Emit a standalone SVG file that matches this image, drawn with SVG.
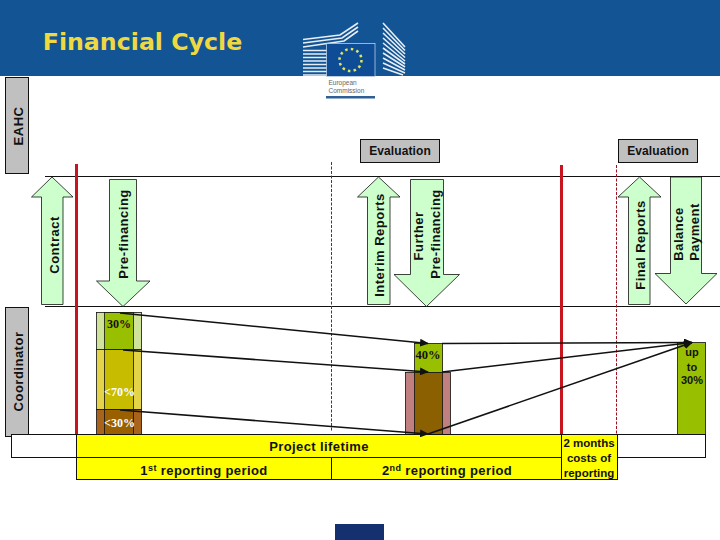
<svg xmlns="http://www.w3.org/2000/svg" width="720" height="540" viewBox="0 0 720 540">
<style>
text{font-family:"Liberation Sans",Arial,sans-serif;font-weight:bold;fill:#111;text-anchor:middle}
.l{font-size:13px;letter-spacing:.5px}
.e{font-size:12px;letter-spacing:.1px}
.s{font-family:"Liberation Serif","Times New Roman",serif;font-size:12px}
.w{fill:#fff}
.gray{fill:#c0c0c0;stroke:#111;stroke-width:1}
.ar{fill:#ccffcc;stroke:#111;stroke-width:.8}
.rule{stroke:#111;stroke-width:1;fill:none}
.red{stroke:#c8141e;stroke-width:3;fill:none}
.dash{stroke:#a01020;stroke-width:1;stroke-dasharray:3 1.5;fill:none}
.c{stroke:#111;stroke-width:1.6;fill:none;marker-end:url(#a)}
.b{stroke:#111;stroke-width:.8}
.st{stroke:#e8eef5;stroke-width:1.6;fill:none}
</style>
<defs><marker id="a" markerUnits="userSpaceOnUse" markerWidth="9" markerHeight="8" refX="8" refY="4" orient="auto"><path d="M0 0L9 4L0 8Z" fill="#111"/></marker></defs>
<rect width="720" height="540" fill="#fff"/>
<g id="header">
<rect width="720" height="76" fill="#125494"/>
<text x="142.500" y="50" style="font-family:'DejaVu Sans',sans-serif;font-size:23.700px;fill:#f0d840">Financial Cycle</text>
</g>
<g id="logo">
<path class="st" d="M303 39.500L340 35L358 23M303 43L342 38L358 27M303 47L344 41L358 31M303 50.500H327M303 54H327M303 57.500H327M303 61H327M303 64.500H327M303 68H327M303 71.500H327M303 75H327M383 23L405 47M383 28L405 50.500M383 33L405 54M383 38L405 57.500M383 43L405 61M383 48L405 64M383 53L405 67M383 58L405 70M383 63L405 73M383 68L403 75"/>
<rect x="326.500" y="43.500" width="48.500" height="33" fill="#0f4c96" stroke="#cfe0ef" stroke-width=".7"/>
<circle cx="350.500" cy="60" r="11" fill="none" stroke="#dde860" stroke-width="2.500" stroke-dasharray="2.500 3.260"/>
<text x="328.500" y="84.500" style="font-weight:normal;font-size:6.500px;fill:#666;text-anchor:start">European</text>
<text x="328.500" y="93" style="font-weight:normal;font-size:6.500px;fill:#666;text-anchor:start">Commission</text>
<rect x="326" y="96" width="49" height="2.500" fill="#2f5f94"/>
</g>
<g id="eahc"><rect class="gray" x="5.500" y="77.500" width="23" height="96"/><text class="l" transform="translate(22.500,126) rotate(-90)">EAHC</text></g>
<g id="coordinator"><rect class="gray" x="5.500" y="307.500" width="23" height="129"/><text class="l" transform="translate(22.500,371.500) rotate(-90)">Coordinator</text></g>
<g id="eval1"><rect class="gray" x="360.500" y="139.500" width="79" height="23"/><text class="e" x="400" y="155">Evaluation</text></g>
<g id="eval2"><rect class="gray" x="618.500" y="139.500" width="79" height="23"/><text class="e" x="658" y="155">Evaluation</text></g>
<g id="guides">
<path class="rule" d="M45 176.500H720M45 306.500H720"/>
<path class="red" d="M76.500 164V435M561.500 165V435"/>
<path class="dash" d="M331.500 162V432M616.500 165V435"/>
</g>
<g id="contract"><path class="ar" d="M52 177L73 197H63V304.500H41.500V197H31.500Z"/><text class="l" transform="translate(58.500,245) rotate(-90)">Contract</text></g>
<g id="prefinancing"><path class="ar" d="M123 306.500L150 281H136.500V179.500H109.500V281H96.500Z"/><text class="l" transform="translate(128,234) rotate(-90)">Pre-financing</text></g>
<g id="interim"><path class="ar" d="M378.500 177L400 197H390V304.500H367.500V197H357.500Z"/><text class="l" transform="translate(384,245) rotate(-90)">Interim Reports</text></g>
<g id="further"><path class="ar" d="M426.500 306.500L459.500 274.500H443.500V179.500H410.500V274.500H394Z"/><text class="l" transform="translate(423,236) rotate(-90)">Further</text><text class="l" transform="translate(440,234) rotate(-90)">Pre-financing</text></g>
<g id="final"><path class="ar" d="M639.500 177L661 197H650V304.500H628.500V197H618Z"/><text class="l" transform="translate(645,245) rotate(-90)">Final Reports</text></g>
<g id="balance"><path class="ar" d="M686 304L717 273.500H701.500V177H670.500V273.500H655Z"/><text class="l" transform="translate(683,234) rotate(-90)">Balance</text><text class="l" transform="translate(699,232) rotate(-90)">Payment</text></g>
<g id="bar-left">
<rect x="96.500" y="312.500" width="45" height="37" fill="#cfe49a" class="b"/>
<rect x="104.500" y="312.500" width="29" height="37" fill="#99c000" class="b"/>
<rect x="96.500" y="349.500" width="45" height="60" fill="#e4d44a" class="b"/>
<rect x="104.500" y="349.500" width="29" height="60" fill="#c8bc00" class="b"/>
<rect x="96.500" y="409.500" width="45" height="25" fill="#a8641c" class="b"/>
<rect x="104.500" y="409.500" width="29" height="25" fill="#9a6000" class="b"/>
<text class="s" x="119" y="328">30%</text>
<text class="s w" x="119.500" y="396">&lt;70%</text>
<text class="s w" x="119.500" y="427">&lt;30%</text>
</g>
<g id="bar-mid">
<rect x="405.500" y="372.500" width="45" height="62" fill="#c08080" class="b"/>
<rect x="414.500" y="372.500" width="28" height="62" fill="#8a6000" class="b"/>
<rect x="414.500" y="343.500" width="28" height="29" fill="#99c000" class="b"/>
<text class="s" x="428" y="359" style="font-size:12.500px">40%</text>
</g>
<g id="bar-right">
<rect x="677.500" y="342.500" width="28" height="92" fill="#99c000" class="b"/>
<text x="692" y="356" style="font-size:11px">up</text><text x="692" y="371" style="font-size:11px">to</text><text x="692" y="384" style="font-size:11px">30%</text>
</g>
<g id="lifetime">
<rect x="11.500" y="434.500" width="694" height="23" fill="#fff" stroke="#111"/>
<rect x="76.500" y="434.500" width="485" height="23" fill="#ffff00" stroke="#111"/>
<rect x="76.500" y="457.500" width="255" height="22" fill="#ffff00" stroke="#111"/>
<rect x="331.500" y="457.500" width="230" height="22" fill="#ffff00" stroke="#111"/>
<rect x="561.500" y="434.500" width="56" height="45" fill="#ffff00" stroke="#111"/>
<text x="319" y="451" style="font-size:13px;letter-spacing:.4px">Project lifetime</text>
<text x="204" y="475" style="font-size:13px;letter-spacing:.4px">1<tspan dy="-4" font-size="9">st</tspan><tspan dy="4"> reporting period</tspan></text>
<text x="447" y="475" style="font-size:13px;letter-spacing:.4px">2<tspan dy="-4" font-size="9">nd</tspan><tspan dy="4"> reporting period</tspan></text>
<text x="589" y="447" style="font-size:11.500px">2 months</text>
<text x="589" y="462" style="font-size:11.500px">costs of</text>
<text x="589" y="477" style="font-size:11.500px">reporting</text>
</g>
<g id="connectors">
<path class="c" d="M120 313L428 343.500"/>
<path class="c" d="M123 350L428 372"/>
<path class="c" d="M120 410L428 434"/>
<path class="c" d="M442 343.500L692 342.500"/>
<path class="c" d="M442 372L692 342.500"/>
<path class="c" d="M428 434L692 342.500"/>
</g>
<g id="footer"><rect x="335" y="524" width="49" height="16" fill="#14306f"/></g>
</svg>
